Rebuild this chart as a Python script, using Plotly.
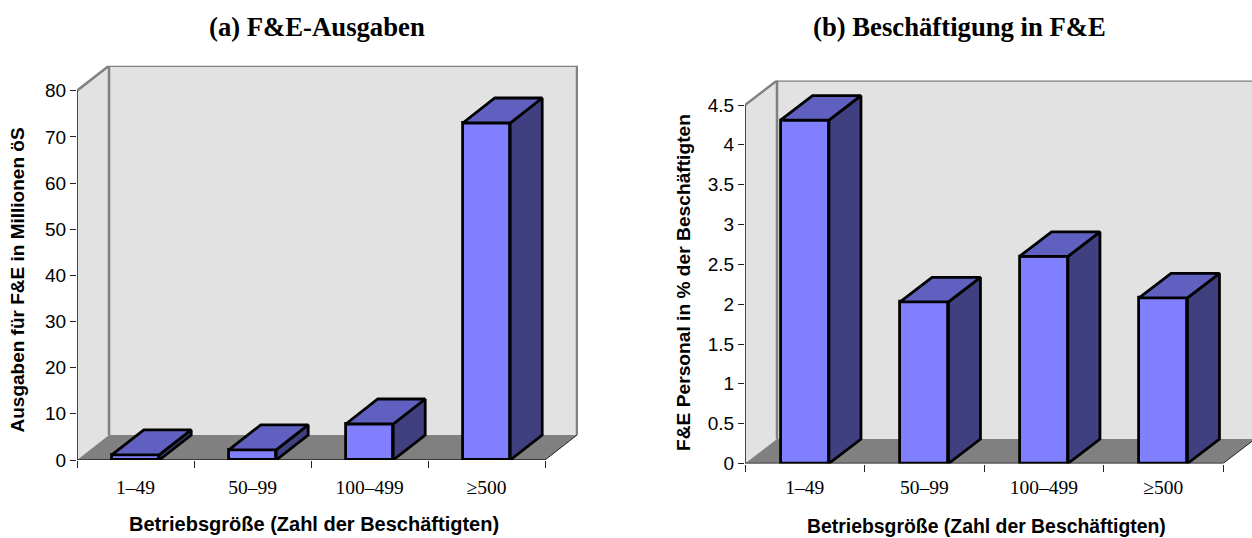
import plotly.graph_objects as go

categories = ["1–49", "50–99", "100–499", "≥500"]
spending = [1.1, 2.2, 7.8, 73]
staff_share = [4.31, 2.03, 2.6, 2.08]

W, H = 1252, 538
BAR_W = 0.405
FRONT = "#8080ff"
TOP = "#6060c0"
SIDE = "#404080"
WALL = "#e2e2e2"
EDGE = "#808080"


def poly(pts):
    return "M " + " L ".join(f"{x} {y}" for x, y in pts) + " Z"


def line(pts):
    return "M " + " L ".join(f"{x} {y}" for x, y in pts)


def panel(fig, idx, values, ymax, ytickvals, yticktext, left, right_px, y0_px, ytop_px, cat_px, depth_px, standoff):
    xname = "x" if idx == 1 else f"x{idx}"
    yname = "y" if idx == 1 else f"y{idx}"
    dx = depth_px[0] / cat_px
    per_px = ymax / (y0_px - ytop_px)
    dy = depth_px[1] * per_px
    n = len(values)
    xmax = (right_px - left) / cat_px
    top_px = ytop_px - depth_px[1]
    xc = [i + 0.5 for i in range(n)]

    shapes = [
        dict(type="path", path=poly([(0, 0), (dx, dy), (dx, ymax + dy), (0, ymax)]), fillcolor=WALL, line_width=0),
        dict(type="path", path=poly([(dx, dy), (n + dx, dy), (n + dx, ymax + dy), (dx, ymax + dy)]), fillcolor=WALL, line_width=0),
        dict(type="path", path=poly([(0, 0), (n, 0), (n + dx, dy), (dx, dy)]), fillcolor=EDGE, line_width=0),
        dict(type="path", path=line([(0, ymax), (dx, ymax + dy), (n + dx, ymax + dy), (n + dx, dy)]), line=dict(color=EDGE, width=2.5)),
        dict(type="path", path=line([(dx, dy), (dx, ymax + dy)]), line=dict(color=EDGE, width=2.5)),
        dict(type="path", path=line([(n, 0), (n + dx, dy)]), line=dict(color="#222222", width=1)),
        dict(type="path", path=line([(0, ymax), (0, 0), (n, 0)]), line=dict(color="#222222", width=1.6)),
    ]
    for s in shapes:
        s.update(xref=xname, yref=yname, layer="below")
        fig.add_shape(s)

    ol = dict(color="black", width=2.8)
    fig.add_trace(go.Bar(x=xc, y=values, width=BAR_W, marker=dict(color=FRONT, line=ol), cliponaxis=False,
                         xaxis=xname, yaxis=yname, showlegend=False, hoverinfo="x+y"))
    h = BAR_W / 2
    for x, v in zip(xc, values):
        fig.add_trace(go.Scatter(
            x=[x + h, x + h + dx, x + h + dx, x + h, x + h], y=[0, dy, v + dy, v, 0],
            fill="toself", fillcolor=SIDE, mode="lines", line=ol, cliponaxis=False,
            xaxis=xname, yaxis=yname, showlegend=False, hoverinfo="skip"))
        fig.add_trace(go.Scatter(
            x=[x - h, x + h, x + h + dx, x - h + dx, x - h], y=[v, v, v + dy, v + dy, v],
            fill="toself", fillcolor=TOP, mode="lines", line=ol, cliponaxis=False,
            xaxis=xname, yaxis=yname, showlegend=False, hoverinfo="skip"))

    suffix = "" if idx == 1 else str(idx)
    fig.update_layout({
        "xaxis" + suffix: dict(
            domain=[left / W, right_px / W], range=[0, xmax], anchor=yname, showgrid=False, zeroline=False,
            automargin=False,
            showline=False, tickmode="array", tickvals=xc, ticktext=categories, ticks="",
            ticklabelstandoff=standoff,
            tickfont=dict(family="Liberation Serif", size=19.5, color="black"),
            minor=dict(tickmode="array", tickvals=list(range(n + 1)), ticks="outside", ticklen=7, tickwidth=1.2, tickcolor="#222222", showgrid=False),
        ),
        "yaxis" + suffix: dict(
            domain=[1 - y0_px / H, 1 - top_px / H], range=[0, ymax + dy], anchor=xname, showgrid=False, zeroline=False,
            automargin=False,
            showline=False, tickmode="array", tickvals=ytickvals, ticktext=yticktext, ticks="outside",
            ticklen=6, tickwidth=1.2, tickcolor="#222222",
            tickfont=dict(family="Liberation Sans", size=19, color="black"),
        ),
    })


fig = go.Figure()
panel(fig, 1, spending, 80, list(range(0, 90, 10)), [str(v) for v in range(0, 90, 10)],
      77, 578, 460, 90.7, 117, (32, 25), 13)
t2 = [0, 0.5, 1, 1.5, 2, 2.5, 3, 3.5, 4, 4.5]
panel(fig, 2, staff_share, 4.5, t2, [f"{v:g}" for v in t2],
      745, 1252, 463.5, 105, 119.5, (32, 24.5), 10)


def sans(size):
    return dict(family="Liberation Sans", size=size, color="black")


serif_b = dict(family="Liberation Serif", size=26.7, color="black")
notes = [
    ("<b>(a) F&E-Ausgaben</b>", 316.5, 27, serif_b, 0),
    ("<b>(b) Beschäftigung in F&E</b>", 959.5, 27, serif_b, 0),
    ("<b>Ausgaben für F&E in Millionen öS</b>", 17, 280.5, sans(19), -90),
    ("<b>F&E Personal in % der Beschäftigten</b>", 683, 283, sans(19.2), -90),
    ("<b>Betriebsgröße (Zahl der Beschäftigten)</b>", 313.5, 524, sans(20), 0),
    ("<b>Betriebsgröße (Zahl der Beschäftigten)</b>", 986.5, 526, sans(19.4), 0),
]
for text, x, y, font, ang in notes:
    fig.add_annotation(text=text, x=x / W, y=1 - y / H, xref="paper", yref="paper", showarrow=False,
                       font=font, textangle=ang, xanchor="center", yanchor="middle")

fig.update_layout(width=W, height=H, margin=dict(l=0, r=0, t=0, b=0, autoexpand=False), paper_bgcolor="white",
                  plot_bgcolor="rgba(0,0,0,0)", showlegend=False, bargap=0)
fig.write_html("out.html", post_script="document.body.style.margin='0';", config={"displayModeBar": False})
